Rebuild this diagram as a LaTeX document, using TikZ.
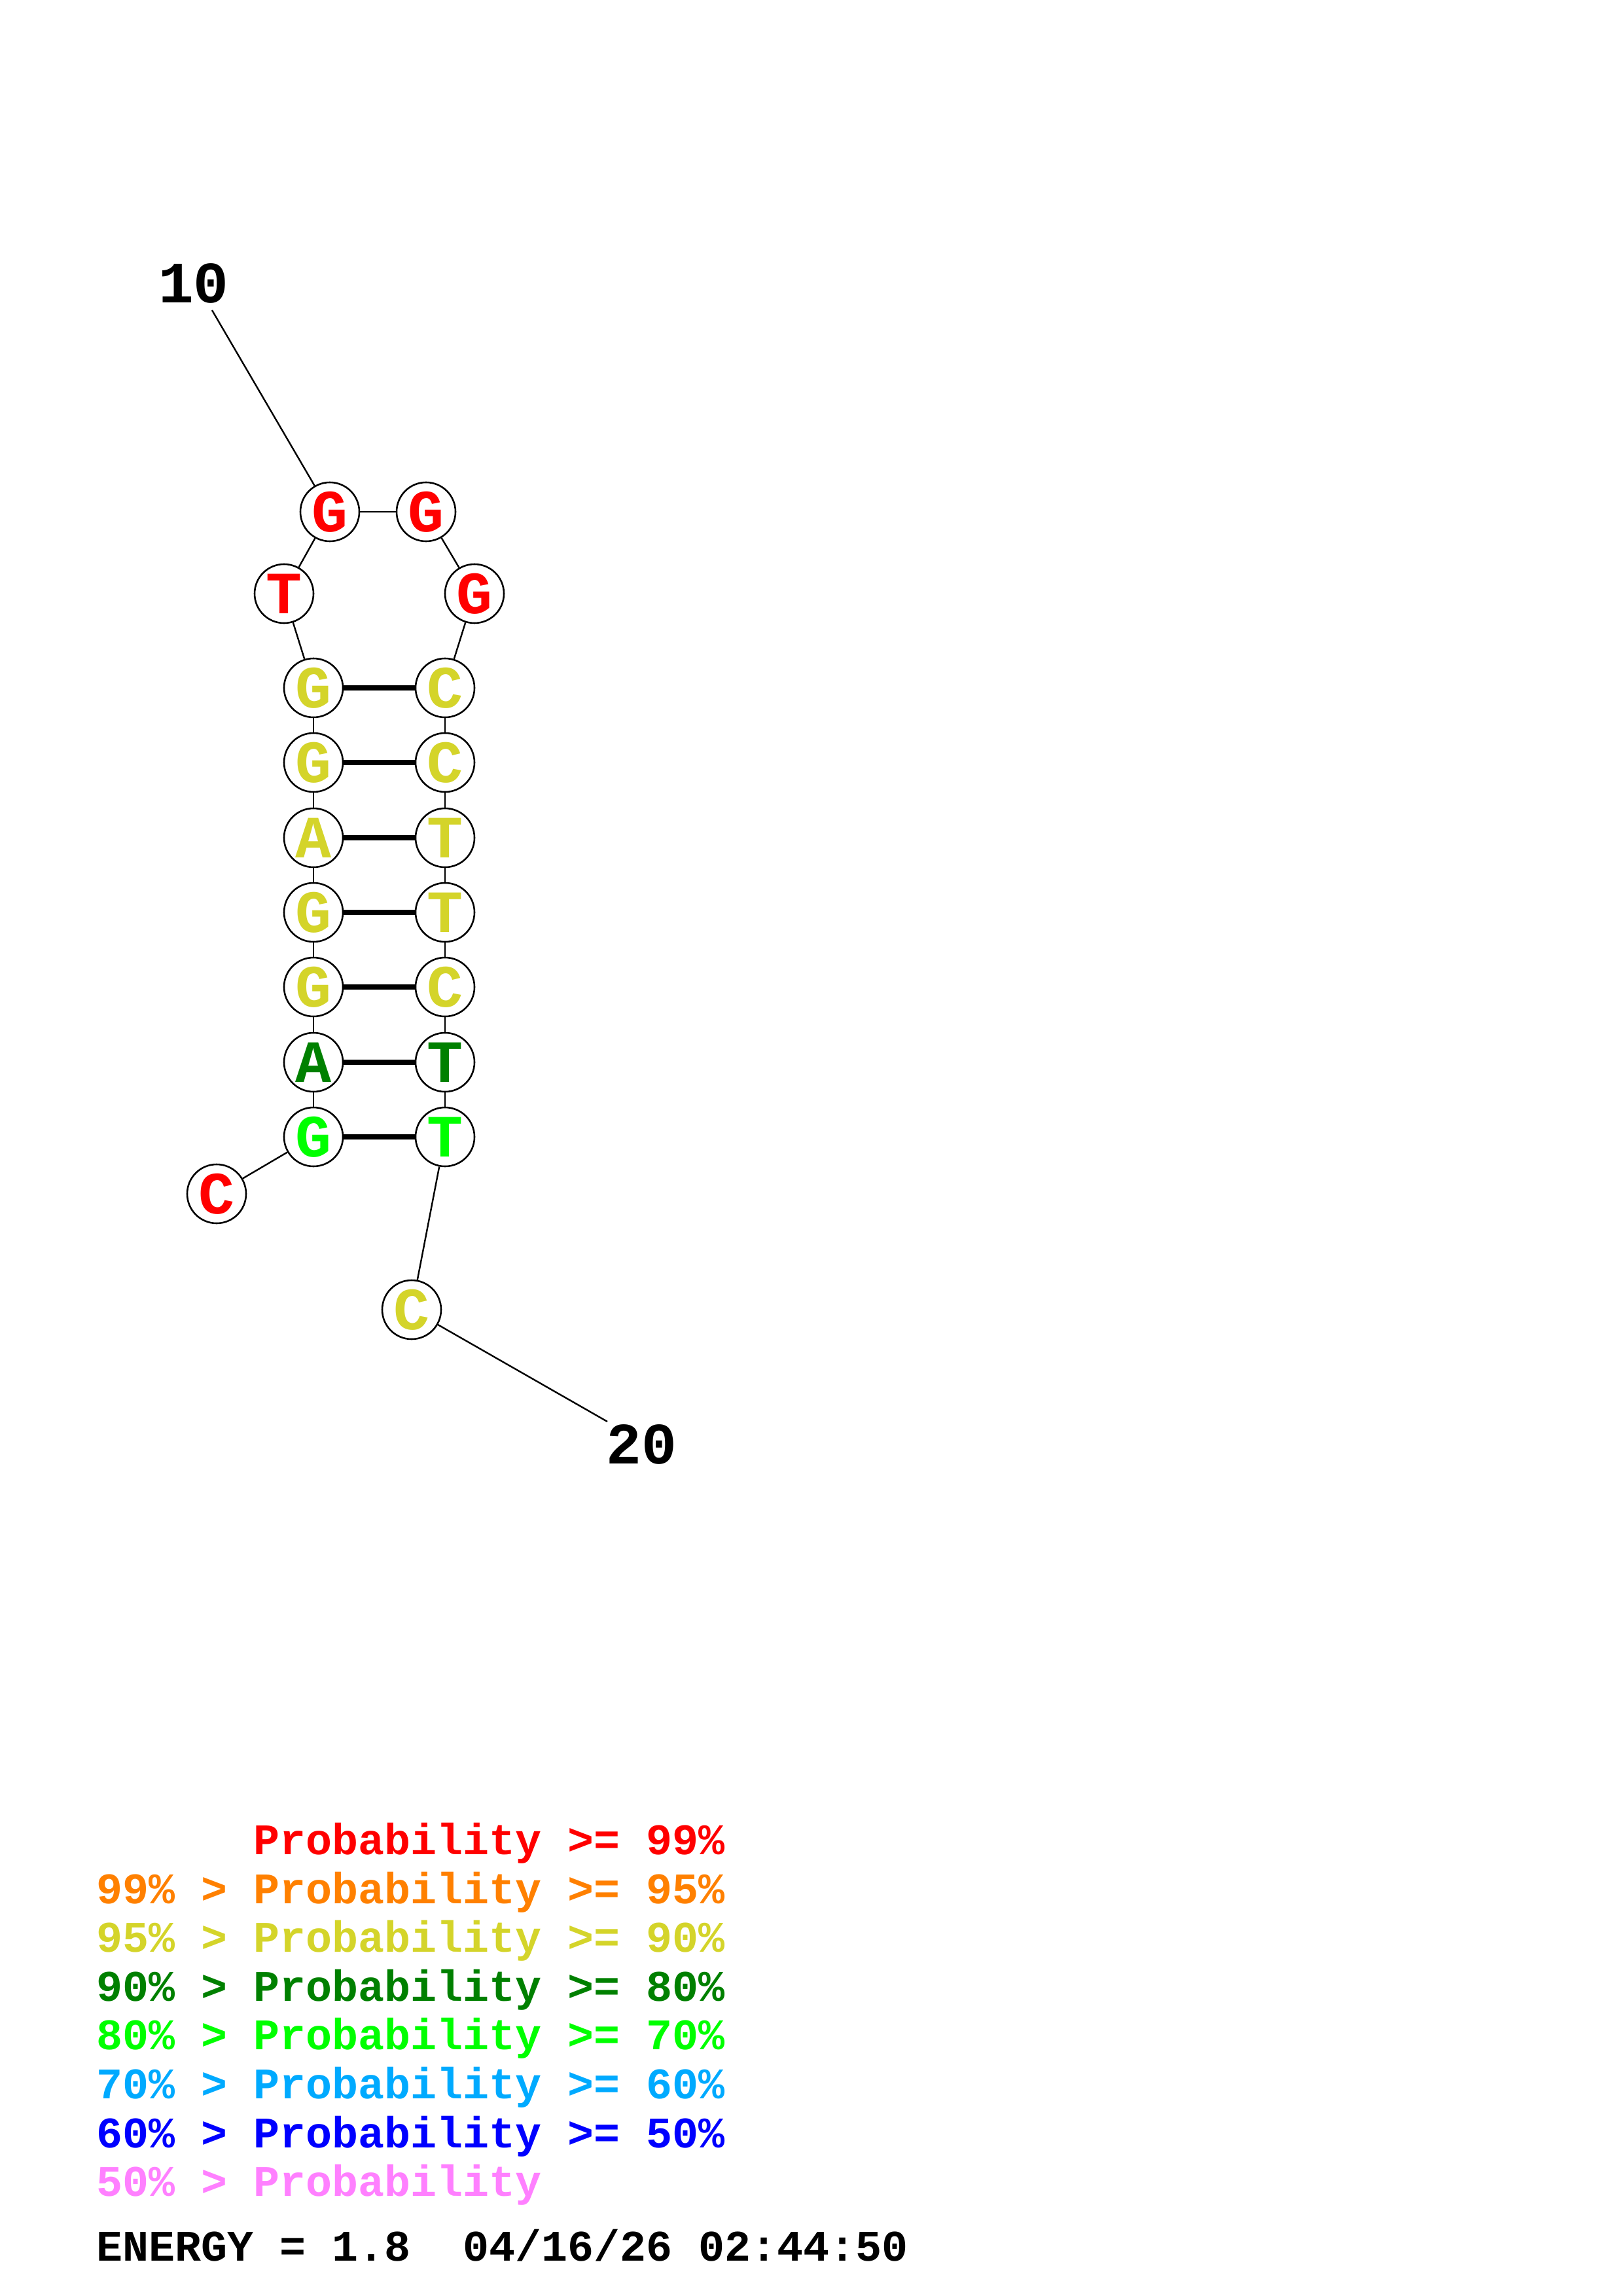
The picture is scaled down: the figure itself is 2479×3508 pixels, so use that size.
\documentclass[tikz,border=0pt]{standalone}
\usepackage{fontspec}
\newfontfamily\mono{Liberation Mono}
\definecolor{pred}{RGB}{255,0,0}
\definecolor{porange}{RGB}{255,128,0}
\definecolor{pyellow}{RGB}{212,212,42}
\definecolor{pdkgreen}{RGB}{0,128,0}
\definecolor{pgreen}{RGB}{0,255,0}
\definecolor{psky}{RGB}{0,170,255}
\definecolor{pblue}{RGB}{0,0,255}
\definecolor{ppink}{RGB}{255,128,255}
\tikzset{
  base/.style={circle,draw=black,line width=0.62pt,fill=white,minimum size=21.6pt,inner sep=0pt,font=\mono\bfseries\fontsize{22}{23}\selectfont},
  bb/.style={line width=0.58pt},
  pairln/.style={line width=2.1pt},
  numlab/.style={inner sep=0pt,font=\mono\bfseries\fontsize{21.5}{22}\selectfont},
  leg/.style={anchor=base west,inner sep=0pt,font=\mono\bfseries\fontsize{16}{17}\selectfont}
}
\begin{document}
\begin{tikzpicture}[x=0.24pt,y=-0.24pt]
\useasboundingbox (0,0) rectangle (2479,3508);
% nodes
\node[base,text=pred] (n1) at (331,1824) {C};
\node[base,text=pgreen] (n2) at (479,1737) {G};
\node[base,text=pdkgreen] (n3) at (479,1623) {A};
\node[base,text=pyellow] (n4) at (479,1508) {G};
\node[base,text=pyellow] (n5) at (479,1394) {G};
\node[base,text=pyellow] (n6) at (479,1280) {A};
\node[base,text=pyellow] (n7) at (479,1165) {G};
\node[base,text=pyellow] (n8) at (479,1051) {G};
\node[base,text=pred] (n9) at (434,907) {T};
\node[base,text=pred] (n10) at (504,782) {G};
\node[base,text=pred] (n11) at (651,782) {G};
\node[base,text=pred] (n12) at (725,907) {G};
\node[base,text=pyellow] (n13) at (680,1051) {C};
\node[base,text=pyellow] (n14) at (680,1165) {C};
\node[base,text=pyellow] (n15) at (680,1280) {T};
\node[base,text=pyellow] (n16) at (680,1394) {T};
\node[base,text=pyellow] (n17) at (680,1508) {C};
\node[base,text=pdkgreen] (n18) at (680,1623) {T};
\node[base,text=pgreen] (n19) at (680,1737) {T};
\node[base,text=pyellow] (n20) at (629,2001) {C};
% labels
\node[numlab] (l10) at (296,433) {10};
\node[numlab] (l20) at (980,2207) {20};
\coordinate (c10) at (324,474);
\coordinate (c20) at (928,2172);
% backbone
\draw[bb] (n1) -- (n2);
\draw[bb] (n2) -- (n3);
\draw[bb] (n3) -- (n4);
\draw[bb] (n4) -- (n5);
\draw[bb] (n5) -- (n6);
\draw[bb] (n6) -- (n7);
\draw[bb] (n7) -- (n8);
\draw[bb] (n8) -- (n9);
\draw[bb] (n9) -- (n10);
\draw[bb] (n10) -- (n11);
\draw[bb] (n11) -- (n12);
\draw[bb] (n12) -- (n13);
\draw[bb] (n13) -- (n14);
\draw[bb] (n14) -- (n15);
\draw[bb] (n15) -- (n16);
\draw[bb] (n16) -- (n17);
\draw[bb] (n17) -- (n18);
\draw[bb] (n18) -- (n19);
\draw[bb] (n19) -- (n20);
\draw[bb] (c10) -- (n10);
\draw[bb] (n20) -- (c20);
% pairs
\draw[pairln] (n8) -- (n13);
\draw[pairln] (n7) -- (n14);
\draw[pairln] (n6) -- (n15);
\draw[pairln] (n5) -- (n16);
\draw[pairln] (n4) -- (n17);
\draw[pairln] (n3) -- (n18);
\draw[pairln] (n2) -- (n19);
% legend
\node[leg,text=pred] (g1) at (387,2833) {Probability >= 99\%};
\node[leg,text=porange] (g2) at (147,2908) {99\% > Probability >= 95\%};
\node[leg,text=pyellow] (g3) at (147,2982) {95\% > Probability >= 90\%};
\node[leg,text=pdkgreen] (g4) at (147,3057) {90\% > Probability >= 80\%};
\node[leg,text=pgreen] (g5) at (147,3131) {80\% > Probability >= 70\%};
\node[leg,text=psky] (g6) at (147,3206) {70\% > Probability >= 60\%};
\node[leg,text=pblue] (g7) at (147,3281) {60\% > Probability >= 50\%};
\node[leg,text=ppink] (g8) at (147,3355) {50\% > Probability};
\node[leg,text=black] (g9) at (147,3454) {ENERGY = 1.8\ \ 04/16/26 02:44:50};
\end{tikzpicture}
\end{document}
